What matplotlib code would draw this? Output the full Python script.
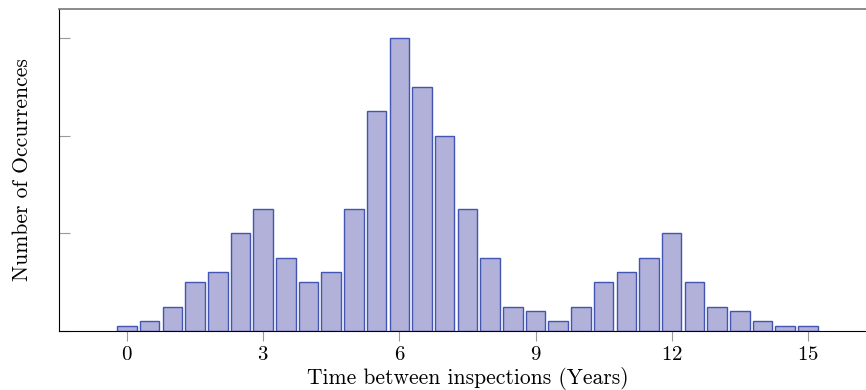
import matplotlib

matplotlib.use("Agg")
import matplotlib.pyplot as plt

# time between inspections (years) and counts (y axis is unlabelled)
years = [i * 0.5 for i in range(31)]
counts = [1, 2, 5, 10, 12, 20, 25, 15, 10, 12, 25, 45, 60, 50, 40, 25,
          15, 5, 4, 2, 5, 10, 12, 15, 20, 10, 5, 4, 2, 1, 1]
xticks = [0, 3, 6, 9, 12, 15]
yticks = [0, 20, 40, 60]

plt.rcParams["font.family"] = ["cmr10", "DejaVu Serif"]
plt.rcParams["axes.formatter.use_mathtext"] = True

fig = plt.figure(figsize=(8.66, 3.9), dpi=100)
ax = fig.add_axes([0.068, 0.1513, 0.9435, 0.8257])

ax.bar(years, counts, width=0.43, color="#b1b1d9", edgecolor="#4255b3", linewidth=1.0)

ax.set_xlim(-1.5, 16.5)
ax.set_ylim(0, 66)
ax.set_xticks(xticks)
ax.set_yticks(yticks)
ax.set_yticklabels([])
ax.tick_params(axis="x", direction="out", length=7, color="#999999", labelsize=15, pad=4)
ax.tick_params(axis="y", direction="in", length=8, color="#999999")

ax.spines["top"].set_color("#777777")
ax.spines["top"].set_linewidth(1.2)
ax.spines["left"].set_color("black")
ax.spines["bottom"].set_color("black")
ax.spines["right"].set_visible(False)

ax.set_xlabel("Time between inspections (Years)", fontsize=15.5, labelpad=2)
ax.set_ylabel("Number of Occurrences", fontsize=15.5, labelpad=16)

fig.savefig("out.png", dpi=100)
